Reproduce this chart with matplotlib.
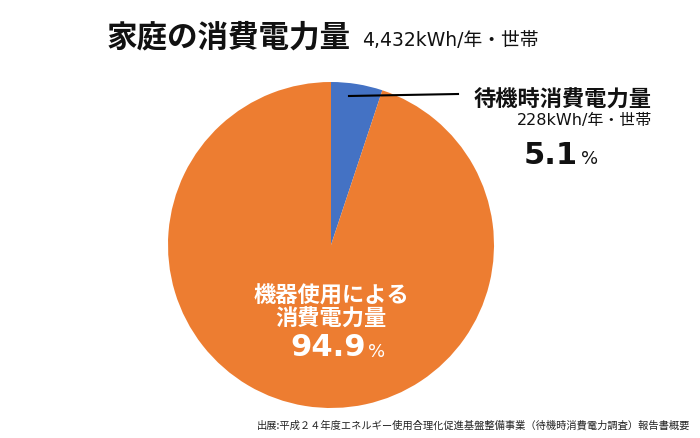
import matplotlib
matplotlib.use("Agg")
import matplotlib.pyplot as plt

plt.rcParams['font.family'] = ['Noto Sans CJK JP', 'DejaVu Sans']

labels = ["待機時消費電力量", "機器使用による消費電力量"]
shares = [5.1, 94.9]
colors = ["#4472C4", "#ED7D31"]
total_text = "4,432kWh/年・世帯"
standby_text = "228kWh/年・世帯"
source = "出展:平成２４年度エネルギー使用合理化促進基盤整備事業（待機時消費電力調査）報告書概要"

W, H = 700, 438
fig = plt.figure(figsize=(7, 4.38), dpi=100)
cx, cy, r = 331, 245, 163
ax = fig.add_axes([(cx - r) / W, (H - cy - r) / H, 2 * r / W, 2 * r / H])
ax.pie(shares, colors=colors, startangle=90, counterclock=False, radius=1,
       wedgeprops=dict(linewidth=0))
ax.set_xlim(-1, 1)
ax.set_ylim(-1, 1)
ax.set_aspect('equal')
ax.axis('off')

def fx(x):
    return x / W

def fy(y):
    return 1 - y / H

latin = ['DejaVu Sans', 'Noto Sans CJK JP']

fig.text(fx(107), fy(37), "家庭の消費電力量", fontsize=22, fontweight='bold',
         va='center', ha='left', color='#111111')
fig.text(fx(362), fy(40), total_text, fontsize=13.5, va='center', ha='left',
         color='#111111', family=latin)

# leader line
fig.add_artist(plt.Line2D([fx(349), fx(458)], [fy(96), fy(94)], color='black', lw=1.5,
                          transform=fig.transFigure))
fig.text(fx(652), fy(100), labels[0], fontsize=16, fontweight='bold',
         va='center', ha='right', color='#111111')
fig.text(fx(652), fy(120), standby_text, fontsize=11.5, va='center', ha='right',
         color='#111111', family=latin)
fig.text(fx(524), fy(155), f"{shares[0]}", fontsize=22, fontweight='bold',
         va='center', ha='left', color='#111111', family='DejaVu Sans')
fig.text(fx(581), fy(159), "%", fontsize=13, va='center', ha='left',
         color='#111111', family='DejaVu Sans')

fig.text(fx(331), fy(296), "機器使用による", fontsize=16, fontweight='bold',
         va='center', ha='center', color='white')
fig.text(fx(331), fy(319), "消費電力量", fontsize=16, fontweight='bold',
         va='center', ha='center', color='white')
fig.text(fx(290), fy(348), f"{shares[1]}", fontsize=22, fontweight='bold',
         va='center', ha='left', color='white', family='DejaVu Sans')
fig.text(fx(368), fy(352), "%", fontsize=13, va='center', ha='left',
         color='white', family='DejaVu Sans')

fig.text(fx(690), fy(425), source, fontsize=7.4, va='center', ha='right', color='#222222')

fig.savefig("out.png", dpi=100)
